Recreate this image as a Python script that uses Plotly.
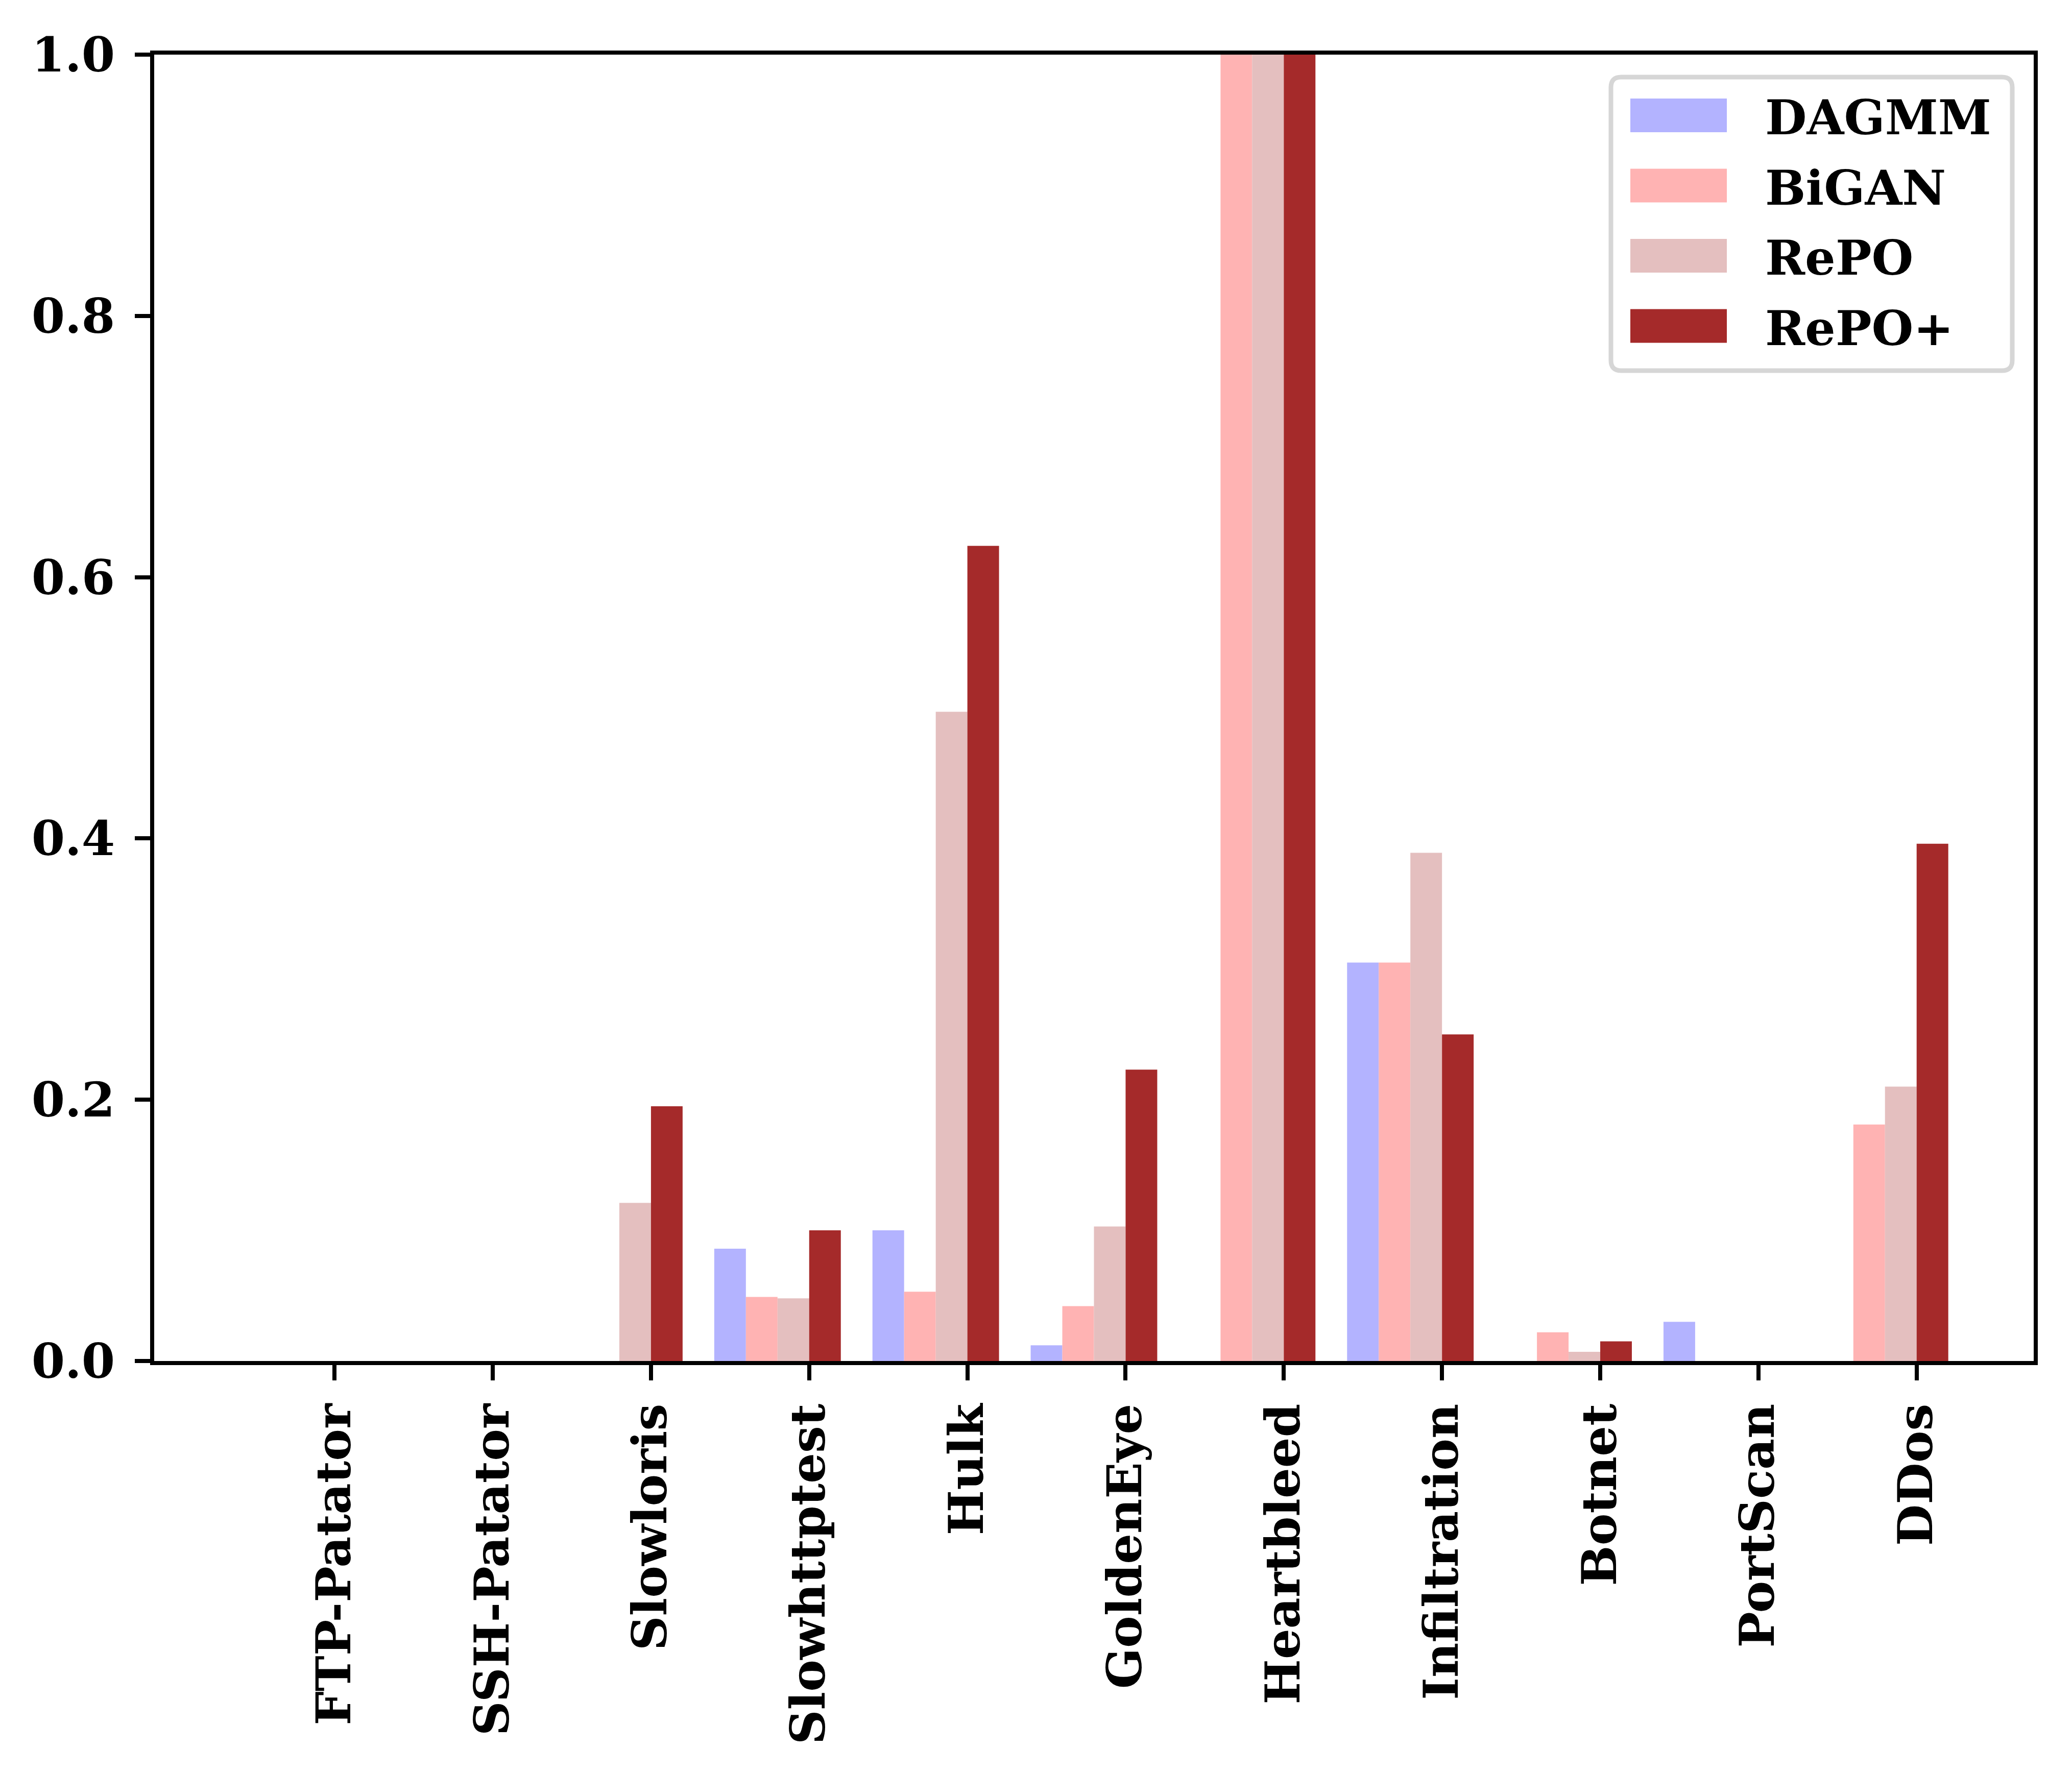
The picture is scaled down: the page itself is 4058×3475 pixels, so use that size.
import plotly.graph_objects as go

categories = ["FTP-Patator", "SSH-Patator", "Slowloris", "Slowhttptest", "Hulk",
              "GoldenEye", "Heartbleed", "Infiltration", "Botnet", "PortScan", "DDos"]

dagmm = [0.0, 0.0, 0.0, 0.086, 0.100, 0.012, 0.0, 0.305, 0.0, 0.030, 0.0]
bigan = [0.0, 0.0, 0.0, 0.049, 0.053, 0.042, 1.0, 0.305, 0.022, 0.0, 0.181]
repo = [0.0, 0.0, 0.121, 0.048, 0.497, 0.103, 1.0, 0.389, 0.007, 0.0, 0.210]
repo_plus = [0.0, 0.0, 0.195, 0.100, 0.624, 0.223, 1.0, 0.250, 0.015, 0.0, 0.396]

series_names = ["DAGMM", "BiGAN", "RePO", "RePO+"]
series_values = [dagmm, bigan, repo, repo_plus]
series_colors = ["#b3b3ff", "#ffb3b3", "#e4bfbf", "#a52a2a"]

y_ticks = [0.0, 0.2, 0.4, 0.6, 0.8, 1.0]

W, H = 4058, 3475
ML, MR, MT, MB = 302, 75, 107, 809
PW, PH = W - ML - MR, H - MT - MB
FONT = "DejaVu Serif"
FS = 94

fig = go.Figure()
bar_w = 0.2
for i, (name, vals, col) in enumerate(zip(series_names, series_values, series_colors)):
    fig.add_trace(go.Bar(
        x=categories, y=vals, name=name,
        marker=dict(color=col, line=dict(width=0)),
        width=bar_w, offset=-0.6 + i * bar_w,
        showlegend=False,
    ))

fig.update_layout(
    width=W, height=H,
    margin=dict(l=ML, r=MR, t=MT, b=MB, pad=0),
    paper_bgcolor="white", plot_bgcolor="white",
    barmode="overlay",
    font=dict(family=FONT, size=FS, color="black", weight="bold"),
)
fig.update_xaxes(
    type="category", range=[-1.14, 10.74],
    showgrid=False, zeroline=False,
    showline=True, linecolor="black", linewidth=8, mirror=True,
    ticks="outside", ticklen=30, tickwidth=8, tickcolor="black",
    tickangle=-90, ticklabelstandoff=8,
    tickfont=dict(family=FONT, size=FS, color="black", weight="bold"),
)
fig.update_yaxes(
    range=[0, 1.0], tickvals=y_ticks, tickformat=".1f",
    showgrid=False, zeroline=False,
    showline=True, linecolor="black", linewidth=8, mirror=True,
    ticks="outside", ticklen=30, tickwidth=8, tickcolor="black",
    ticklabelstandoff=20,
    tickfont=dict(family=FONT, size=FS, color="black", weight="bold"),
)

# manual legend (matplotlib-like) in paper coordinates
def px_x(p):
    return (p - ML) / PW

def px_y(p):
    return (H - MB - p) / PH

bx0, bx1, by0, by1 = px_x(3155), px_x(3941), px_y(151), px_y(726)
rx, ry = 20 / PW, 20 / PH
path = (f"M {bx0 + rx},{by0} L {bx1 - rx},{by0} Q {bx1},{by0} {bx1},{by0 - ry} "
        f"L {bx1},{by1 + ry} Q {bx1},{by1} {bx1 - rx},{by1} "
        f"L {bx0 + rx},{by1} Q {bx0},{by1} {bx0},{by1 + ry} "
        f"L {bx0},{by0 - ry} Q {bx0},{by0} {bx0 + rx},{by0} Z")
shapes = [dict(type="path", xref="paper", yref="paper", path=path,
               line=dict(color="#d6d6d6", width=9), fillcolor="white", layer="above")]
annotations = []
row0, row_step, sw_h = 226, 137.5, 66
for i, (name, col) in enumerate(zip(series_names, series_colors)):
    cy = row0 + i * row_step
    shapes.append(dict(type="rect", xref="paper", yref="paper",
                       x0=px_x(3193), x1=px_x(3382),
                       y0=px_y(cy + sw_h / 2), y1=px_y(cy - sw_h / 2),
                       fillcolor=col, line=dict(width=0), layer="above"))
    annotations.append(dict(xref="paper", yref="paper", x=px_x(3455), y=px_y(cy + 4),
                            text=name, showarrow=False, xanchor="left", yanchor="middle",
                            font=dict(family=FONT, size=FS, color="black", weight="bold")))
fig.update_layout(shapes=shapes, annotations=annotations)

fig.write_html("out.html", config={"displayModeBar": False},
               post_script="document.body.style.margin='0';")
